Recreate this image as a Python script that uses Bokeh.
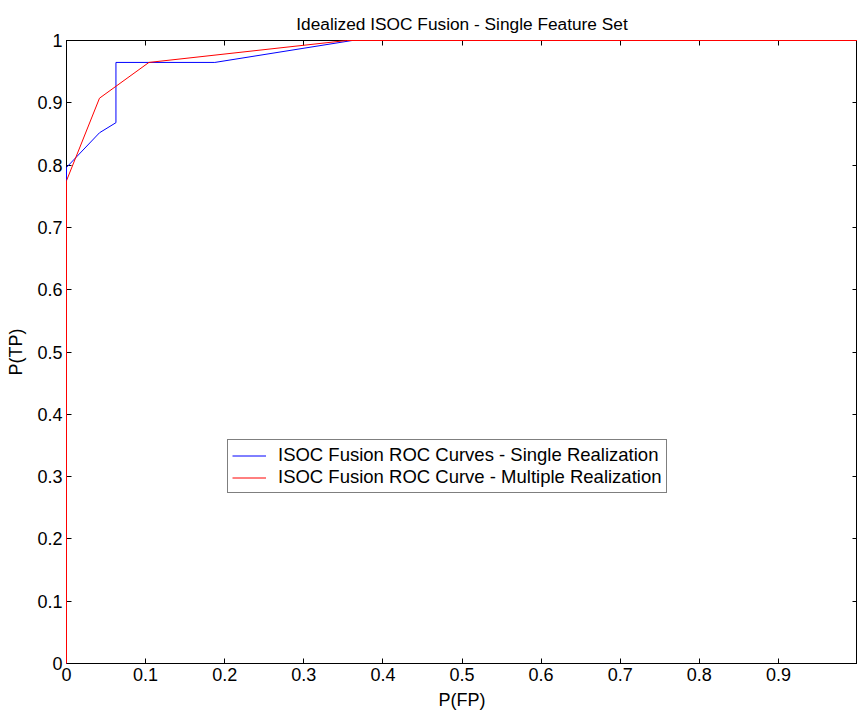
from bokeh.plotting import figure
from bokeh.models import (LinearAxis, FixedTicker, CustomJSTickFormatter, Range1d,
                          Legend, LegendItem)
from bokeh.embed import file_html
from bokeh.resources import INLINE

# ROC operating points (false-positive rate, true-positive rate)
single_fp = [0.0, 0.0, 0.0417, 0.0625, 0.0625, 0.1875, 0.3611, 1.0]
single_tp = [0.0, 0.7963, 0.8519, 0.8681, 0.9648, 0.9648, 1.0, 1.0]

multi_fp = [0.0, 0.0, 0.0417, 0.1042, 0.3542, 1.0]
multi_tp = [0.0, 0.7750, 0.9074, 0.9648, 1.0, 1.0]

x_ticks = [0.0, 0.1, 0.2, 0.3, 0.4, 0.5, 0.6, 0.7, 0.8, 0.9]
y_ticks = [0.0, 0.1, 0.2, 0.3, 0.4, 0.5, 0.6, 0.7, 0.8, 0.9, 1.0]

FONT = "Liberation Sans"

p = figure(width=857, height=712, output_backend="svg", toolbar_location=None,
           x_range=Range1d(0, 1), y_range=Range1d(0, 1),
           min_border_left=66, min_border_right=0, min_border_top=40,
           min_border_bottom=48, background_fill_color="white",
           border_fill_color="white")

p.title.text = "Idealized ISOC Fusion - Single Feature Set"
p.title.align = "center"
p.title.text_font = FONT
p.title.text_font_size = "17.3px"
p.title.text_font_style = "normal"
p.title.text_color = "black"
p.title.offset = 26
p.title.standoff = 14

p.grid.visible = False
p.outline_line_color = "black"
p.outline_line_width = 1

fmt = CustomJSTickFormatter(code="return Math.abs(tick - Math.round(tick)) < 1e-9 ? tick.toFixed(0) : tick.toFixed(1);")


def style_axis(ax, ticks, labels=True):
    ax.ticker = FixedTicker(ticks=ticks)
    ax.major_tick_in = 5
    ax.major_tick_out = 0
    ax.minor_tick_in = 0
    ax.minor_tick_out = 0
    ax.axis_line_color = "black"
    ax.major_tick_line_color = "black"
    if labels:
        ax.formatter = fmt
        ax.major_label_text_font = FONT
        ax.major_label_text_font_size = "18px"
        ax.major_label_text_color = "black"
        ax.major_label_standoff = 4
        ax.axis_label_text_font = FONT
        ax.axis_label_text_font_size = "18px"
        ax.axis_label_text_font_style = "normal"
        ax.axis_label_text_color = "black"
    else:
        ax.major_label_text_font_size = "0px"
        ax.major_label_standoff = 0
        ax.formatter = CustomJSTickFormatter(code="return '';")


xax = p.xaxis[0]
yax = p.yaxis[0]
style_axis(xax, x_ticks)
style_axis(yax, y_ticks)
xax.axis_label = "P(FP)"
yax.axis_label = "P(TP)"
xax.axis_label_standoff = 6
yax.axis_label_standoff = 8

top_ax = LinearAxis()
style_axis(top_ax, x_ticks, labels=False)
p.add_layout(top_ax, "above")

right_ax = LinearAxis()
style_axis(right_ax, y_ticks, labels=False)
p.add_layout(right_ax, "right")

r_single = p.line(single_fp, single_tp, line_color="#0000ff", line_width=1, level="overlay")
r_multi = p.line(multi_fp, multi_tp, line_color="#ff0000", line_width=1, level="overlay")

legend = Legend(items=[
    LegendItem(label="ISOC Fusion ROC Curves - Single Realization", renderers=[r_single]),
    LegendItem(label="ISOC Fusion ROC Curve - Multiple Realization", renderers=[r_multi]),
], location=(161, 170))
legend.label_text_font = FONT
legend.label_text_font_size = "18.5px"
legend.label_text_color = "black"
legend.label_standoff = 12
legend.glyph_width = 34
legend.glyph_height = 21
legend.label_height = 21
legend.spacing = 0
legend.padding = 4
legend.margin = 0
legend.border_line_color = "black"
legend.border_line_width = 1
legend.background_fill_color = "white"
legend.background_fill_alpha = 1
p.add_layout(legend, "center")

open("out.html", "w").write(file_html(p, INLINE))
